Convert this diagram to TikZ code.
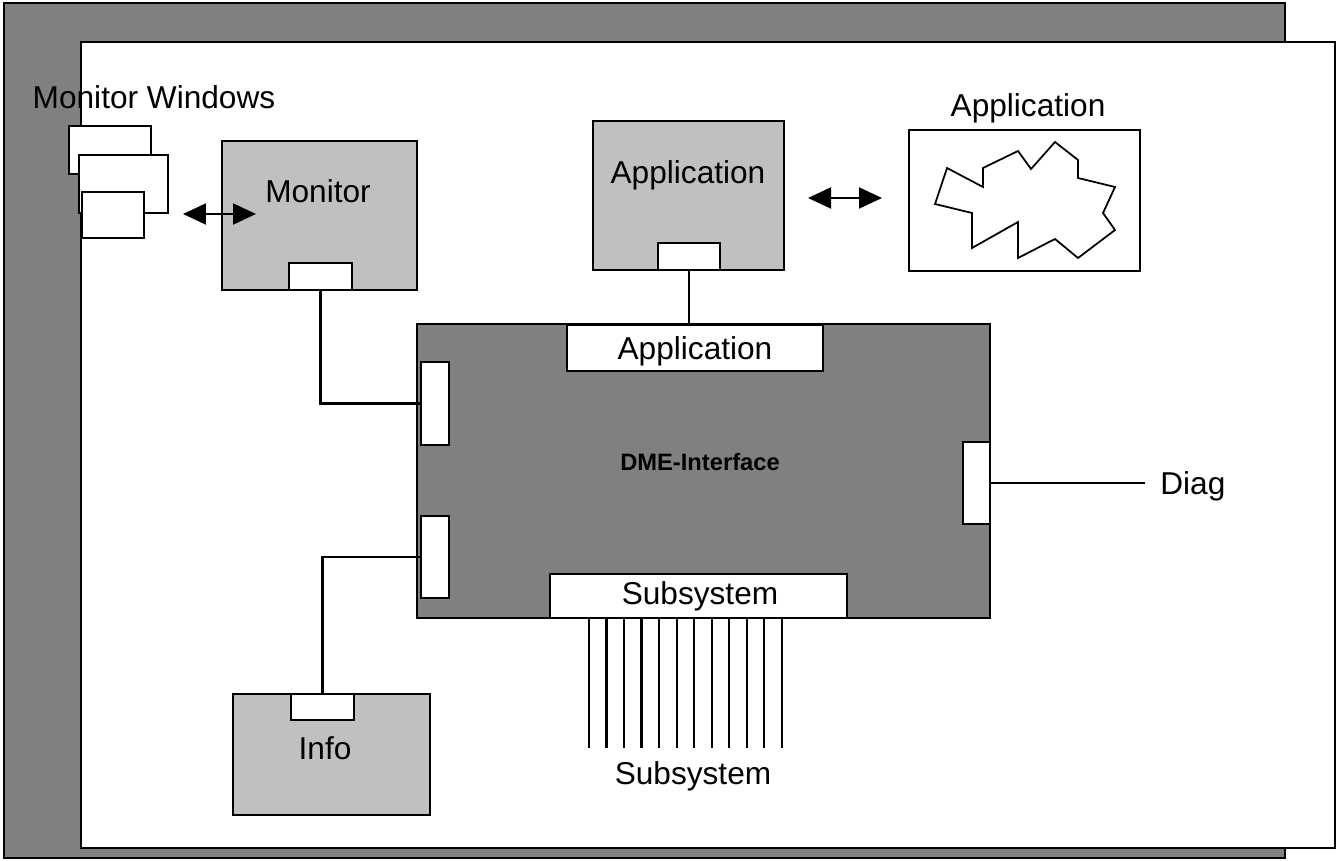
\documentclass[tikz,border=0pt]{standalone}
\usepackage{fontspec}
\setmainfont{Liberation Sans}
\usetikzlibrary{arrows.meta,fit}
\definecolor{panelgray}{HTML}{808080}
\definecolor{boxgray}{HTML}{C0C0C0}
\tikzset{
  wire/.style={line width=1.15pt},
  unit/.style={draw,line width=1.15pt,fill=boxgray,inner sep=0pt},
  port/.style={draw,line width=1.15pt,fill=white,inner sep=0pt},
  lbl/.style={font=\fontsize{18}{20}\selectfont,inner sep=0pt,anchor=base},
  dbl/.style={line width=1.15pt,{Triangle[length=0.46cm,width=0.42cm]}-{Triangle[length=0.46cm,width=0.42cm]}}
}
\begin{document}
\begin{tikzpicture}[x=0.02cm,y=-0.02cm]
\useasboundingbox (0,0) rectangle (1338,861);
% frames
\draw[wire,fill=panelgray] (4,3) rectangle (1285,858);
\draw[wire,fill=white] (81,42) rectangle (1335,848);
% monitor windows
\node[port,fit={(69,126)(151,174)}] (win1) {};
\node[port,fit={(79,155)(168,213)}] (win2) {};
\node[port,fit={(82,192)(144,238)}] (win3) {};
\node[lbl] (wintxt) at (154,109) {Monitor Windows};
% monitor
\node[unit,fit={(222,141)(417,290)}] (mon) {};
\node[port,fit={(289,263)(352,290)}] (monport) {};
\node[lbl] at (318,203) {Monitor};
\coordinate (monarrL) at (183,214);
\coordinate (monarrR) at (256,214);
\draw[dbl] (monarrL) -- (monarrR);
% application
\node[unit,fit={(593,121)(784,270)}] (app) {};
\node[port,fit={(658,243)(720,270)}] (appport) {};
\node[lbl] at (688,184) {Application};
\coordinate (apparrL) at (808,198);
\coordinate (apparrR) at (882,198);
\draw[dbl] (apparrL) -- (apparrR);
\node[port,fit={(909,130)(1140,271)}] (appwin) {};
\node[lbl] at (1028,117) {Application};
\draw[line width=1pt] (947,168) -- (983,187) -- (983,168) -- (1018,151) -- (1031,169)
  -- (1055,142) -- (1078,160) -- (1078,178) -- (1115,187) -- (1103,213) -- (1115,230)
  -- (1078,258) -- (1055,239) -- (1018,258) -- (1018,222) -- (972,248) -- (972,213)
  -- (935,204) -- cycle;
% DME interface
\node[unit,fill=panelgray,fit={(417,324)(990,618)}] (dme) {};
\node[lbl,font=\fontsize{13.5}{16}\selectfont\bfseries] at (700,470) {DME-Interface};
\node[port,fit={(567,325)(823,371)}] (dmeapp) {};
\node[lbl] at (695,359) {Application};
\node[port,fit={(421,362)(449,445)}] (dmeL1) {};
\node[port,fit={(421,516)(449,598)}] (dmeL2) {};
\node[port,fit={(963,442)(990,524)}] (dmeR) {};
\node[port,fit={(550,574)(847,618)}] (dmesub) {};
\node[lbl] at (700,604) {Subsystem};
% info
\node[unit,fit={(233,694)(430,815)}] (info) {};
\node[port,fit={(291,694)(354,720)}] (infoport) {};
\node[lbl] at (325,759) {Info};
% connections
\draw[wire] (monport.south) |- (dmeL1.west);
\draw[wire] (infoport.north) |- (dmeL2.west);
\draw[wire] (appport.south) -- (appport.south |- dmeapp.north);
\node[lbl,anchor=base west] (diag) at (1160,494) {Diag};
\draw[wire] (dmeR.east) -- ([xshift=-0.3cm]diag.west |- dmeR.east);
\foreach \x in {589,606.5,...,782}
  \draw[wire] (\x,748 |- dmesub.south) -- (\x,748);
\node[lbl] (subtxt) at (693,784) {Subsystem};
\end{tikzpicture}
\end{document}
